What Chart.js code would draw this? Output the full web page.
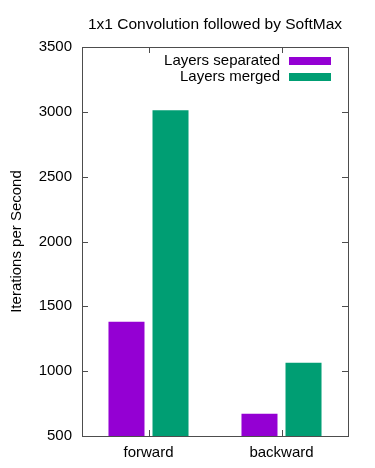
<!DOCTYPE html>
<html>
<head>
<meta charset="utf-8">
<script src="https://cdn.jsdelivr.net/npm/chart.js@4/dist/chart.umd.min.js"></script>
<style>
  html, body { margin: 0; padding: 0; background: #fff; }
  #wrap { width: 375px; height: 468px; }
</style>
</head>
<body>
<div id="wrap"><canvas id="chart"></canvas></div>
<script>
// data
const categories = ["forward", "backward"];
const seriesNames = ["Layers separated", "Layers merged"];
const separated = [1382, 672];
const merged = [3012, 1065];
const yTicks = [500, 1000, 1500, 2000, 2500, 3000, 3500];

const FONT = "'Liberation Sans', Arial, sans-serif";
const frameColor = "#4d4d4d";

// frame, inward ticks, title and key drawn like gnuplot
const gnuplotLook = {
  id: "gnuplotLook",
  afterDraw(chart) {
    const { ctx, chartArea: a, scales } = chart;
    ctx.save();
    ctx.strokeStyle = frameColor;
    ctx.lineWidth = 1;
    ctx.strokeRect(a.left + 0.5, a.top + 0.5, a.right - a.left, a.bottom - a.top);

    ctx.beginPath();
    yTicks.forEach(v => {
      const y = Math.round(scales.y.getPixelForValue(v)) + 0.5;
      ctx.moveTo(a.left, y); ctx.lineTo(a.left + 6, y);
      ctx.moveTo(a.right, y); ctx.lineTo(a.right - 6, y);
    });
    categories.forEach((c, i) => {
      const x = Math.round(scales.x.getPixelForValue(i)) + 0.5;
      ctx.moveTo(x, a.bottom); ctx.lineTo(x, a.bottom - 6);
      ctx.moveTo(x, a.top); ctx.lineTo(x, a.top + 6);
    });
    ctx.stroke();

    // title
    ctx.fillStyle = "#000";
    ctx.font = "15.5px " + FONT;
    ctx.textAlign = "center";
    ctx.textBaseline = "middle";
    ctx.fillText("1x1 Convolution followed by SoftMax", (a.left + a.right) / 2, 25);

    // key
    ctx.font = "15px " + FONT;
    ctx.textAlign = "right";
    chart.data.datasets.forEach((ds, i) => {
      const y = 61 + i * 16;
      ctx.fillStyle = "#000";
      ctx.fillText(ds.label, 280, y);
      ctx.fillStyle = ds.backgroundColor;
      ctx.fillRect(289, y - 4, 42, 8);
    });
    ctx.restore();
  }
};

new Chart(document.getElementById("chart"), {
  type: "bar",
  data: {
    labels: categories,
    datasets: [
      { label: seriesNames[0], data: separated, backgroundColor: "#9400d3" },
      { label: seriesNames[1], data: merged, backgroundColor: "#009e73" }
    ]
  },
  options: {
    responsive: true,
    maintainAspectRatio: false,
    animation: false,
    devicePixelRatio: 1,
    categoryPercentage: 0.662,
    barPercentage: 0.818,
    layout: { padding: { top: 47, right: 27, left: 0, bottom: 0 } },
    plugins: {
      legend: { display: false },
      title: { display: false },
      tooltip: { enabled: false }
    },
    scales: {
      x: {
        grid: { display: false, drawTicks: false },
        border: { display: false },
        ticks: { color: "#000", font: { family: FONT, size: 15 }, padding: 8 },
        afterFit(scale) { scale.height = 32; }
      },
      y: {
        min: 500,
        max: 3500,
        grid: { display: false, drawTicks: false },
        border: { display: false },
        ticks: {
          stepSize: 500,
          color: "#000",
          font: { family: FONT, size: 15 },
          padding: 10,
          callback: v => String(v)
        },
        title: {
          display: true,
          text: "Iterations per Second",
          color: "#000",
          font: { family: FONT, size: 15 },
          padding: { top: 8, bottom: 0 }
        },
        afterFit(scale) { scale.width = 82; }
      }
    }
  },
  plugins: [gnuplotLook]
});
</script>
</body>
</html>
